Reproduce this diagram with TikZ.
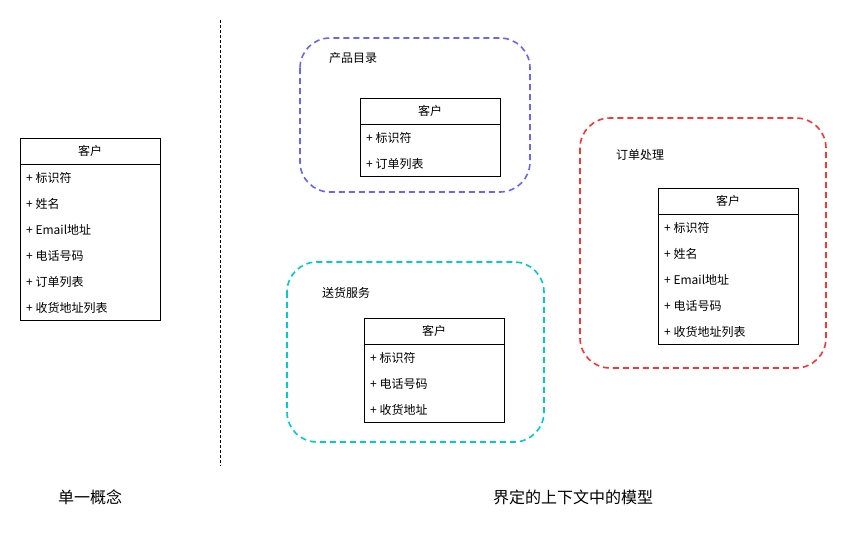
\documentclass[tikz,border=0pt]{standalone}
\usepackage{fontspec}
\setmainfont{Noto Sans CJK SC}
\begin{document}
\begin{tikzpicture}[x=1pt,y=-1pt,
  hdr/.style={draw=black,line width=0.8pt,minimum width=140pt,minimum height=26pt,inner sep=0pt,font=\fontsize{12}{14}\selectfont,fill=white},
  bodybox/.style={draw=black,line width=0.8pt,minimum width=140pt,inner sep=0pt},
  row/.style={anchor=west,inner sep=0pt,font=\fontsize{12}{14}\selectfont},
  ctx/.style={line width=1.6pt,dash pattern=on 6pt off 4pt,rounded corners=30pt},
  ctxlabel/.style={anchor=west,inner sep=0pt,font=\fontsize{12}{14}\selectfont},
  biglabel/.style={inner sep=0pt,font=\fontsize{16}{18}\selectfont}]
\useasboundingbox (0,0) rectangle (847,538);
% divider
\coordinate (d1) at (220,20);
\coordinate (d2) at (220,466);
\draw[line width=0.8pt,dash pattern=on 3pt off 2pt] (d1) -- (d2);
% left class
\node[hdr] (lh) at (90,151) {客户};
\node[bodybox,minimum height=156pt] (lb) at (90,242) {};
\node[row] (l1) at (26,178) {+ 标识符};
\node[row] (l2) at (26,204) {+ 姓名};
\node[row] (l3) at (26,230) {+ Email地址};
\node[row] (l4) at (26,256) {+ 电话号码};
\node[row] (l5) at (26,282) {+ 订单列表};
\node[row] (l6) at (26,308) {+ 收货地址列表};
% blue context
\draw[ctx,draw={rgb,255:red,102;green,102;blue,255}] (300,38) rectangle (530,192);
\node[ctxlabel] (bl) at (329,58) {产品目录};
\node[hdr] (bh) at (430,111) {客户};
\node[bodybox,minimum height=52pt] (bb) at (430,150) {};
\node[row] (b1) at (366,138) {+ 标识符};
\node[row] (b2) at (366,164) {+ 订单列表};
% teal context
\draw[ctx,draw={rgb,255:red,0;green,204;blue,204}] (287,262) rectangle (544,442);
\node[ctxlabel] (tl) at (322,293) {送货服务};
\node[hdr] (th) at (434,331) {客户};
\node[bodybox,minimum height=78pt] (tb) at (434,383) {};
\node[row] (t1) at (370,358) {+ 标识符};
\node[row] (t2) at (370,384) {+ 电话号码};
\node[row] (t3) at (370,410) {+ 收货地址};
% red context
\draw[ctx,draw={rgb,255:red,255;green,51;blue,51}] (580,118) rectangle (826,368);
\node[ctxlabel] (rl) at (616,155) {订单处理};
\node[hdr] (rh) at (728,201) {客户};
\node[bodybox,minimum height=130pt] (rb) at (728,279) {};
\node[row] (r1) at (664,228) {+ 标识符};
\node[row] (r2) at (664,254) {+ 姓名};
\node[row] (r3) at (664,280) {+ Email地址};
\node[row] (r4) at (664,306) {+ 电话号码};
\node[row] (r5) at (664,332) {+ 收货地址列表};
% bottom labels
\node[biglabel] (s1) at (90,497) {单一概念};
\node[biglabel] (s2) at (573,497) {界定的上下文中的模型};
\end{tikzpicture}
\end{document}
